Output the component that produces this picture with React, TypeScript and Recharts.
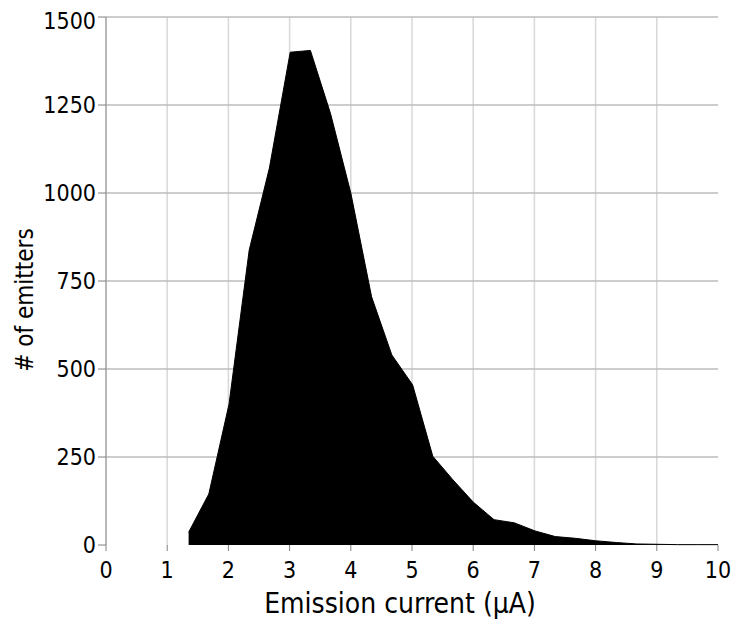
import { Area, AreaChart, CartesianGrid, Label, XAxis, YAxis } from 'recharts';

const CURRENT = [
  1.35, 1.68, 2.01, 2.34, 2.67, 3.01, 3.34, 3.67, 4.0, 4.34, 4.67, 5.01, 5.34, 5.67,
  6.0, 6.34, 6.67, 7.01, 7.34, 7.67, 8.0, 8.34, 8.67, 9.0, 9.34, 9.67, 10.0,
];
const EMITTERS = [
  36, 145, 400, 838, 1071, 1400, 1405, 1225, 1000, 705, 540, 455, 252, 185,
  122, 72, 63, 40, 24, 19, 12, 7, 3, 2, 1, 1, 1,
];
const X_TICKS = [0, 1, 2, 3, 4, 5, 6, 7, 8, 9, 10];
const Y_TICKS = [0, 250, 500, 750, 1000, 1250, 1500];
const H_GRID = [250, 500, 750, 1000, 1250, 1500];
const V_GRID = [1, 2, 3, 4, 5, 6, 7, 8, 9];

const data = CURRENT.map((x, i) => ({ x, n: EMITTERS[i] }));

const FONT = "'DejaVu Sans Condensed', 'DejaVu Sans', sans-serif";

export default function App() {
  return (
    <div style={{ width: 731, height: 615, fontFamily: FONT }}>
      <AreaChart
        width={731}
        height={615}
        data={data}
        margin={{ top: 9, right: 21, left: 0, bottom: 0 }}
      >
        <CartesianGrid horizontal={false} verticalValues={V_GRID} stroke="#d8d8d8" strokeWidth={1.5} />
        <CartesianGrid vertical={false} horizontalValues={H_GRID} stroke="#bdbdbd" strokeWidth={1.5} />
        <XAxis
          dataKey="x"
          type="number"
          domain={[0, 10]}
          ticks={X_TICKS}
          axisLine={false}
          tickSize={6}
          tickMargin={11}
          tickLine={{ stroke: '#808080' }}
          height={78}
          tick={{ fill: '#000', fontSize: 23, fontFamily: FONT }}
        >
          <Label
            content={() => (
              <text x={392} y={605} textAnchor="middle" fontSize={28} fontFamily={FONT} fill="#000">
                Emission current (μA)
              </text>
            )}
          />
        </XAxis>
        <YAxis
          type="number"
          domain={[0, 1500]}
          ticks={Y_TICKS}
          width={98}
          axisLine={{ stroke: '#a0a0a0', strokeWidth: 1.5 }}
          tickSize={8}
          tickMargin={2}
          tickLine={{ stroke: '#808080' }}
          tick={{ fill: '#000', fontSize: 23, fontFamily: FONT }}
        >
          <Label
            content={() => (
              <text
                x={25}
                y={292}
                transform="rotate(-90 25 292)"
                textAnchor="middle"
                fontSize={24}
                fontFamily={FONT}
                fill="#000"
              >
                # of emitters
              </text>
            )}
          />
        </YAxis>
        <Area
          type="linear"
          dataKey="n"
          stroke="#000"
          strokeWidth={1}
          fill="#000"
          fillOpacity={1}
          baseValue={0}
          isAnimationActive={false}
          dot={false}
          activeDot={false}
        />
      </AreaChart>
    </div>
  );
}
